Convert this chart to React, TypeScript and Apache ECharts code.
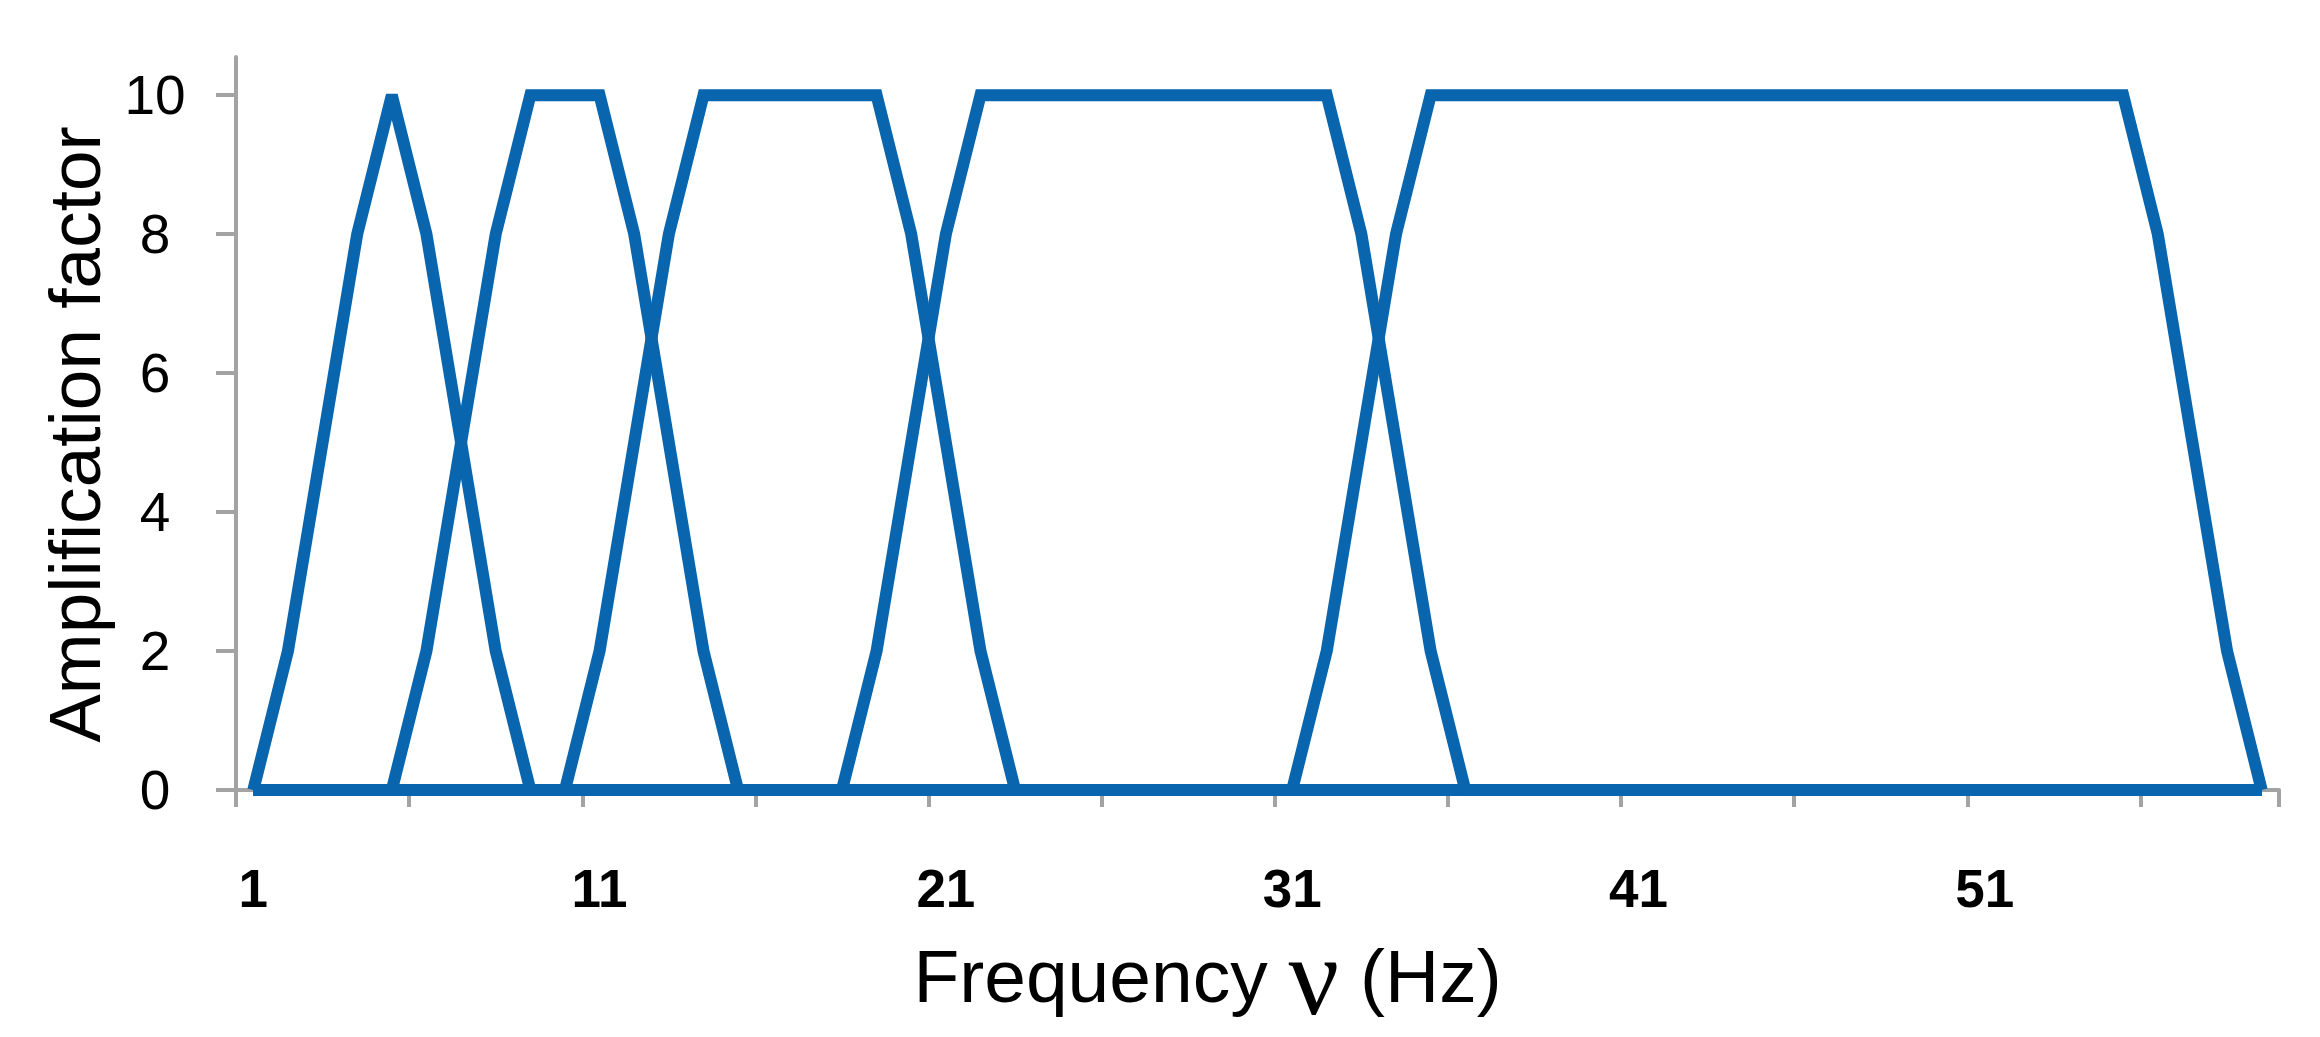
import React, { useEffect, useRef } from "react";
import * as echarts from "echarts";

// Frequency categories 1..59 (Hz)
const frequencies: string[] = [
  "1","2","3","4","5","6","7","8","9","10",
  "11","12","13","14","15","16","17","18","19","20",
  "21","22","23","24","25","26","27","28","29","30",
  "31","32","33","34","35","36","37","38","39","40",
  "41","42","43","44","45","46","47","48","49","50",
  "51","52","53","54","55","56","57","58","59",
];

// Amplification factor of each band filter, one value per frequency
const band1: number[] = [
  0,2,5,8,10,8,5,2,0,0,
  0,0,0,0,0,0,0,0,0,0,
  0,0,0,0,0,0,0,0,0,0,
  0,0,0,0,0,0,0,0,0,0,
  0,0,0,0,0,0,0,0,0,0,
  0,0,0,0,0,0,0,0,0,
];
const band2: number[] = [
  0,0,0,0,0,2,5,8,10,10,
  10,8,5,2,0,0,0,0,0,0,
  0,0,0,0,0,0,0,0,0,0,
  0,0,0,0,0,0,0,0,0,0,
  0,0,0,0,0,0,0,0,0,0,
  0,0,0,0,0,0,0,0,0,
];
const band3: number[] = [
  0,0,0,0,0,0,0,0,0,0,
  2,5,8,10,10,10,10,10,10,8,
  5,2,0,0,0,0,0,0,0,0,
  0,0,0,0,0,0,0,0,0,0,
  0,0,0,0,0,0,0,0,0,0,
  0,0,0,0,0,0,0,0,0,
];
const band4: number[] = [
  0,0,0,0,0,0,0,0,0,0,
  0,0,0,0,0,0,0,0,2,5,
  8,10,10,10,10,10,10,10,10,10,
  10,10,8,5,2,0,0,0,0,0,
  0,0,0,0,0,0,0,0,0,0,
  0,0,0,0,0,0,0,0,0,
];
const band5: number[] = [
  0,0,0,0,0,0,0,0,0,0,
  0,0,0,0,0,0,0,0,0,0,
  0,0,0,0,0,0,0,0,0,0,
  0,2,5,8,10,10,10,10,10,10,
  10,10,10,10,10,10,10,10,10,10,
  10,10,10,10,10,8,5,2,0,
];

const yTicks: number[] = [0, 2, 4, 6, 8, 10];

const BLUE = "#0865AE";
const AXIS_GRAY = "#a3a3a3";

export default function App() {
  const ref = useRef<HTMLDivElement>(null);

  useEffect(() => {
    if (!ref.current) return;
    const chart = echarts.init(ref.current, undefined, { renderer: "svg" });

    const bands = [band1, band2, band3, band4, band5];

    chart.setOption({
      animation: false,
      backgroundColor: "#ffffff",
      grid: {
        left: 236,
        right: 41,
        top: 57,
        bottom: 247,
        containLabel: false,
        outerBoundsMode: "none",
      },
      xAxis: {
        type: "category",
        data: frequencies,
        boundaryGap: true,
        axisLine: { show: true, lineStyle: { color: AXIS_GRAY, width: 4 } },
        axisTick: {
          show: true,
          interval: 4,
          length: 17,
          lineStyle: { color: AXIS_GRAY, width: 4 },
        },
        axisLabel: {
          interval: 9,
          margin: 72,
          color: "#000",
          fontFamily: "'Liberation Sans Narrow', 'Liberation Sans', Arial, sans-serif",
          fontWeight: "bold",
          fontSize: 53,
          lineHeight: 53,
        },
        splitLine: { show: false },
        name: "{a|Frequency }{b|ν}{a| (Hz)}",
        nameLocation: "middle",
        nameGap: 102,
        nameTextStyle: {
          padding: [0, 100, 0, 0],
          rich: {
            a: {
              fontFamily: "'Liberation Sans', Arial, sans-serif",
              fontSize: 75,
              color: "#000",
              lineHeight: 100,
            },
            b: {
              fontFamily: "'Liberation Serif', 'DejaVu Serif', serif",
              fontSize: 112,
              color: "#000",
              lineHeight: 100,
            },
          },
        },
      },
      yAxis: {
        type: "value",
        min: 0,
        max: 10.55,
        axisLine: { show: true, lineStyle: { color: AXIS_GRAY, width: 4 } },
        axisTick: {
          show: true,
          length: 20,
          customValues: yTicks,
          lineStyle: { color: AXIS_GRAY, width: 4 },
        },
        axisLabel: {
          customValues: yTicks,
          align: "center",
          margin: 81,
          color: "#000",
          fontFamily: "'Liberation Sans', Arial, sans-serif",
          fontSize: 55,
          formatter: (v: number) => (Number.isInteger(v) ? String(v) : ""),
        },
        splitLine: { show: false },
        name: "Amplification factor",
        nameLocation: "middle",
        nameRotate: 90,
        nameGap: 125,
        nameTextStyle: {
          fontFamily: "'Liberation Sans', Arial, sans-serif",
          fontSize: 73,
          color: "#000",
          padding: [0, 22, 0, 0],
        },
      },
      series: bands.map((d, i) => ({
        name: "band" + (i + 1),
        type: "line",
        data: d,
        symbol: "none",
        clip: false,
        lineStyle: { color: BLUE, width: 12, join: "miter" },
        itemStyle: { color: BLUE },
      })),
    });

    return () => chart.dispose();
  }, []);

  return (
    <div
      ref={ref}
      style={{ position: "absolute", left: 0, top: 0, width: 2320, height: 1037, background: "#fff" }}
    />
  );
}
